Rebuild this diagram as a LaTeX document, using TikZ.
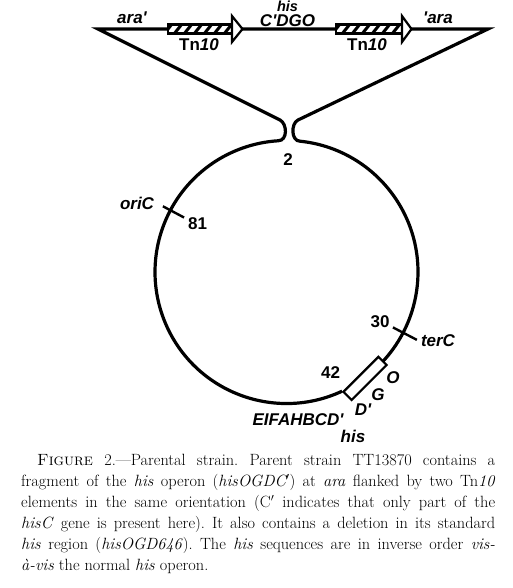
\documentclass[tikz,border=0pt]{standalone}
\usepackage{fontspec}
\newfontfamily\lblfont{Liberation Sans}
\usetikzlibrary{calc}

\tikzset{
  chrom/.style={line width=3.2pt, line join=miter},
  tick/.style={line width=2.4pt},
  lbl/.style={font=\lblfont\bfseries\itshape\fontsize{17}{17}\selectfont, inner sep=0pt},
  num/.style={font=\lblfont\bfseries\fontsize{17}{17}\selectfont, inner sep=0pt},
  caption/.style={font=\fontsize{16.3}{21}\selectfont\frenchspacing, text width=474pt, align=justify, inner sep=0pt},
}

\begin{document}
\begin{tikzpicture}[x=1pt,y=1pt]
      \useasboundingbox (0,0) rectangle (513,-588);
      \coordinate (c) at (286.5,-272);

      % chromosome with the ara loop
      \draw[chrom] (c) ++(-65:131.5) arc[start angle=-65, end angle=-266.3, radius=131.5]
        .. controls +(10,0) and (287.1,-123.6) .. (280,-120)
        -- (98,-29) -- (488,-29) -- (298,-120)
        .. controls (290.8,-123.4) and (291,-141.2) .. (300,-141.2)
        arc[start angle=84.1, end angle=-43, radius=131.5];

      % Tn10 elements
      \foreach \xa/\xb/\xt in {168/232/242.5, 336/402/411.5} {
        \fill[white] (\xa,-24.5) rectangle (\xb,-33.5);
        \begin{scope}
          \clip (\xa,-24.5) rectangle (\xb,-33.5);
          \foreach \s in {0,10,...,70}
            \draw[line width=3pt] (\xa+\s-4,-34) -- (\xa+\s+4,-24);
        \end{scope}
        \draw[line width=2.2pt] (\xa,-24.5) rectangle (\xb,-33.5);
        \draw[line width=2.2pt, fill=white, line join=miter] (\xb,-16) -- (\xt,-29) -- (\xb,-42) -- cycle;
      }

      % his box and markers
      \node[draw, line width=2.2pt, fill=white, rotate=45, minimum width=49.5pt,
            minimum height=11.6pt, inner sep=0pt] (hisbox) at (365,-378.4) {};
      \draw[tick] ($(c)+(152:116)$) -- ($(c)+(152:140)$);
      \draw[tick] ($(c)+(-27.5:120)$) -- ($(c)+(-27.5:147)$);

      \begin{scope}[every node/.style={lbl}]
        \node (araL)  at (132,-18)  {ara'};
        \node[font=\lblfont\bfseries\itshape\fontsize{14.5}{14.5}\selectfont] (hisT) at (287.5,-6) {his};
        \node (cdgo)  at (287.5,-20.8) {C'DGO};
        \node (araR)  at (438,-18)  {'ara};
        \node (tnA)   at (199,-45)  {\upshape Tn\itshape 10};
        \node (tnB)   at (367,-45)  {\upshape Tn\itshape 10};
        \node (oric)  at (137,-203) {oriC};
        \node (terc)  at (438,-340.7) {terC};
        \node (genO)  at (393,-378) {O};
        \node (genG)  at (378,-395) {G};
        \node (genD)  at (363,-410) {D'};
        \node (genE)  at (298,-420) {EIFAHBCD'};
        \node (hisB)  at (353,-436) {his};
      \end{scope}

      \begin{scope}[every node/.style={num}]
        \node (m2)  at (288,-160)   {2};
        \node (m81) at (197.5,-224) {81};
        \node (m30) at (380,-322)   {30};
        \node (m42) at (330.5,-372.7) {42};
      \end{scope}

      \node[caption, anchor=north west] (cap) at (21,-454) {%
        \hspace*{16pt}\textsc{Figure} 2.---Parental strain. Parent strain TT13870 contains a\linebreak
        fragment of the \textit{his} operon (\textit{hisOGDC$'$}) at \textit{ara} flanked by two Tn\textit{10}\linebreak
        elements in the same orientation (C$'$ indicates that only part of the\linebreak
        \textit{hisC} gene is present here). It also contains a deletion in its standard\linebreak
        \textit{his} region (\textit{hisOGD646}). The \textit{his} sequences are in inverse order \textit{vis-}\linebreak
        \textit{à-vis} the normal \textit{his} operon.};

    \end{tikzpicture}
\end{document}
